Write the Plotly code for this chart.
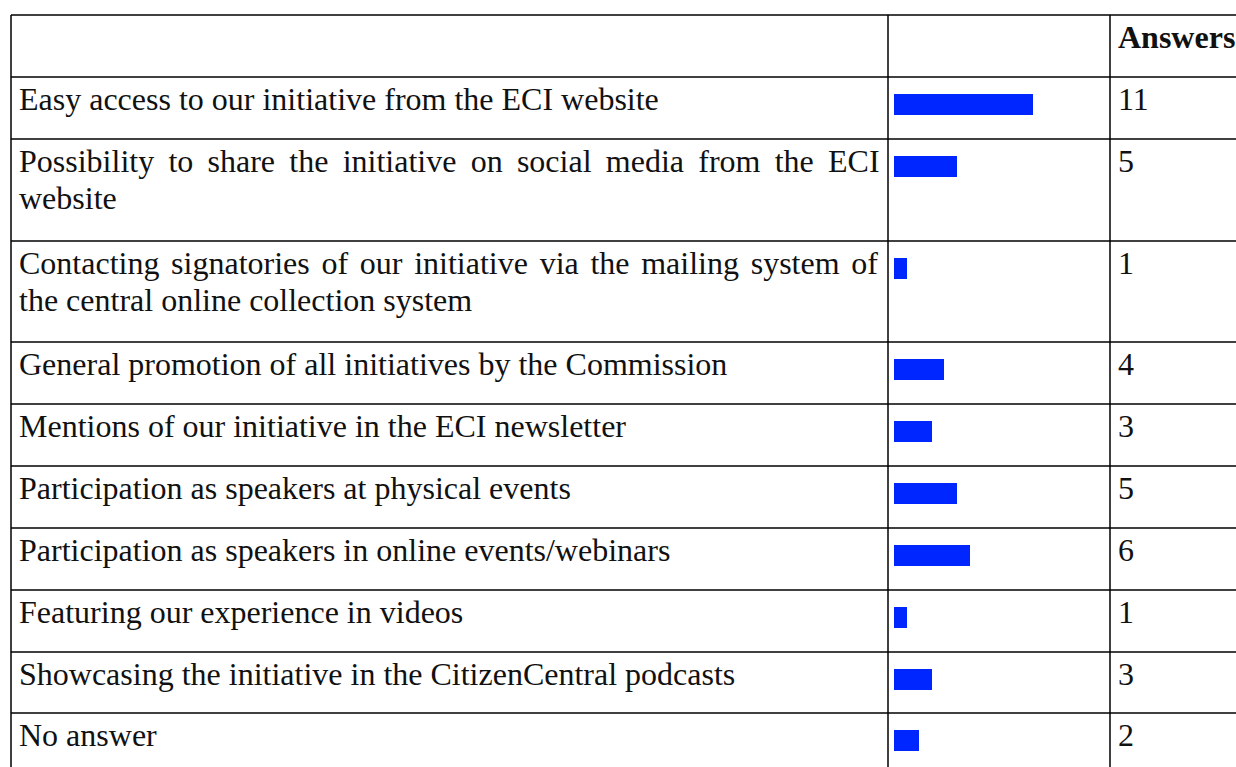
import plotly.graph_objects as go

# Dados da tabela
labels = [
    "Easy access to our initiative from the ECI website",
    "Possibility to share the initiative on social media from the ECI\nwebsite",
    "Contacting signatories of our initiative via the mailing system of\nthe central online collection system",
    "General promotion of all initiatives by the Commission",
    "Mentions of our initiative in the ECI newsletter",
    "Participation as speakers at physical events",
    "Participation as speakers in online events/webinars",
    "Featuring our experience in videos",
    "Showcasing the initiative in the CitizenCentral podcasts",
    "No answer",
]
answers = [11, 5, 1, 4, 3, 5, 6, 1, 3, 2]
header = "Answers"

W, H = 1236, 767
FONT = "Liberation Serif, Times New Roman, serif"
FS = 32

# Geometria da tabela (pixels)
top = 15
header_h = 62
row_h = [62, 102, 101, 62, 62, 62, 62, 62, 61, 62]
col_x = [11, 888, 1110, 1250]
px_per_unit = 12.6
bar_x0 = 894
# espaçamento extra entre palavras nas linhas justificadas (px)
justify = {1: 6.25, 2: 3.7}

row_top = []
y = top + header_h
for h in row_h:
    row_top.append(y)
    y += h
bottom = y
h_lines = [top, top + header_h] + [t + h for t, h in zip(row_top, row_h)]

fig = go.Figure()

# Barras (eixo x2 posicionado na coluna do meio)
fig.add_trace(go.Bar(
    x=answers,
    y=[t + 27.5 for t in row_top],
    width=20.5,
    orientation='h',
    xaxis='x2', yaxis='y',
    marker=dict(color='#0026ff', line=dict(width=0)),
    showlegend=False, hoverinfo='skip'
))

shapes = []
for yy in h_lines:
    shapes.append(dict(type='line', xref='x', yref='y', x0=col_x[0], x1=col_x[-1],
                       y0=yy, y1=yy, line=dict(color='black', width=1.5)))
for xx in col_x:
    shapes.append(dict(type='line', xref='x', yref='y', x0=xx, x1=xx,
                       y0=top, y1=bottom, line=dict(color='black', width=1.5)))

annotations = []
line_gap = 36.5
text_dy = 3


def add_text(x, yy, txt, bold=False, ws=None):
    if bold:
        txt = "<b>%s</b>" % txt
    if ws:
        txt = '<span style="word-spacing:%spx">%s</span>' % (ws, txt)
    annotations.append(dict(
        x=x, y=yy, xref='x', yref='y', text=txt,
        xanchor='left', yanchor='top', showarrow=False, borderpad=0,
        font=dict(family=FONT, size=FS, color='#111111')
    ))


add_text(col_x[2] + 7, top + text_dy, header, bold=True)
for i, (t, lab, n) in enumerate(zip(row_top, labels, answers)):
    parts = lab.split("\n")
    for k, ln in enumerate(parts):
        ws = justify.get(i) if k < len(parts) - 1 else None
        add_text(col_x[0] + 7, t + text_dy + k * line_gap, ln, ws=ws)
    add_text(col_x[2] + 7, t + text_dy, str(n))

fig.update_layout(
    width=W, height=H,
    margin=dict(l=0, r=0, t=0, b=0),
    paper_bgcolor='white', plot_bgcolor='white',
    xaxis=dict(range=[0, W], visible=False, fixedrange=True),
    xaxis2=dict(domain=[bar_x0 / W, col_x[2] / W],
                range=[0, (col_x[2] - bar_x0) / px_per_unit],
                visible=False, anchor='y', fixedrange=True),
    yaxis=dict(range=[H, 0], visible=False, fixedrange=True),
    shapes=shapes, annotations=annotations, bargap=0,
)

fig.write_html("out.html", config={'displayModeBar': False},
               post_script="document.body.style.margin='0';document.body.style.overflow='hidden';")
